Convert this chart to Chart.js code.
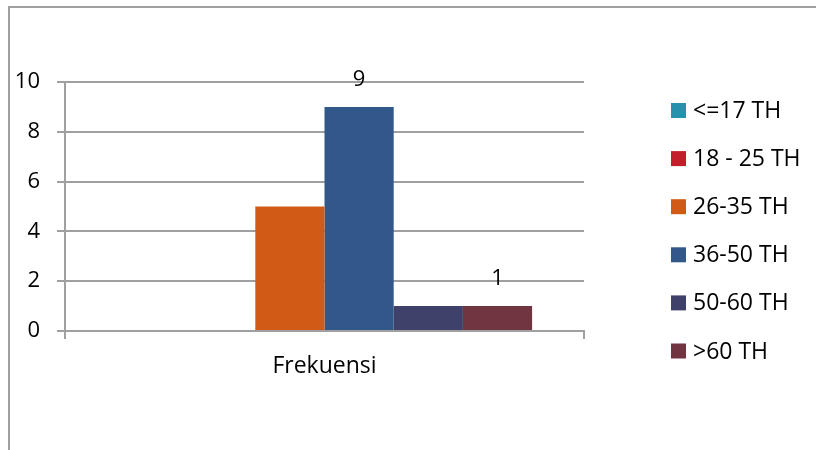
<!DOCTYPE html>
<html>
<head>
<meta charset="utf-8">
<script src="https://cdn.jsdelivr.net/npm/chart.js@4/dist/chart.umd.min.js"></script>
<style>
  html, body { margin: 0; padding: 0; background: #ffffff; }
  #wrap { position: relative; width: 816px; height: 450px; }
</style>
</head>
<body>
<div id="wrap"><canvas id="c" width="816" height="450"></canvas></div>
<script>
const categories = ["Frekuensi"];
const seriesNames = ["<=17 TH", "18 - 25 TH", "26-35 TH", "36-50 TH", "50-60 TH", ">60 TH"];
const seriesValues = [[0], [0], [5], [9], [1], [1]];
const seriesColors = ["#2790ab", "#c41e2a", "#d05a16", "#325889", "#3f416a", "#713441"];
const labelledSeries = [3, 5];
const yTicks = [0, 2, 4, 6, 8, 10];

const FONT = "'Open Sans', 'Noto Sans', sans-serif";
const GRID = "#a0a0a0";

const datasets = seriesNames.map((name, i) => ({
  label: name,
  data: seriesValues[i],
  backgroundColor: seriesColors[i],
  borderWidth: 0,
  categoryPercentage: 0.8,
  barPercentage: 1.0
}));

const frame = {
  id: 'frame',
  beforeDraw(chart) {
    const ctx = chart.ctx;
    ctx.save();
    ctx.fillStyle = '#ffffff';
    ctx.fillRect(0, 0, chart.width, chart.height);
    ctx.strokeStyle = GRID;
    ctx.lineWidth = 2;
    ctx.beginPath();
    ctx.moveTo(9, 450);
    ctx.lineTo(9, 7);
    ctx.lineTo(816, 7);
    ctx.stroke();
    ctx.restore();
  }
};

const valueLabels = {
  id: 'valueLabels',
  afterDatasetsDraw(chart) {
    const ctx = chart.ctx;
    ctx.save();
    ctx.fillStyle = '#000000';
    ctx.font = "22px " + FONT;
    ctx.textAlign = 'center';
    ctx.textBaseline = 'middle';
    labelledSeries.forEach(di => {
      const meta = chart.getDatasetMeta(di);
      meta.data.forEach((bar, j) => {
        ctx.fillText(String(seriesValues[di][j]), bar.x, bar.y - 27);
      });
    });
    ctx.restore();
  }
};

const sideLegend = {
  id: 'sideLegend',
  afterDraw(chart) {
    const ctx = chart.ctx;
    ctx.save();
    ctx.font = "23px " + FONT;
    ctx.textBaseline = 'middle';
    ctx.textAlign = 'left';
    chart.data.datasets.forEach((ds, i) => {
      const cy = 110.5 + i * 48.1;
      ctx.fillStyle = ds.backgroundColor;
      ctx.fillRect(671, cy - 7.5, 15, 15);
      ctx.fillStyle = '#000000';
      ctx.fillText(ds.label, 693, cy + 1);
    });
    ctx.restore();
  }
};

new Chart(document.getElementById('c'), {
  type: 'bar',
  data: { labels: categories, datasets },
  options: {
    responsive: false,
    animation: false,
    devicePixelRatio: 1,
    layout: { padding: { left: 0, right: 232, top: 82, bottom: 0 } },
    plugins: {
      legend: { display: false },
      tooltip: { enabled: false },
      title: { display: false }
    },
    scales: {
      x: {
        offset: true,
        grid: {
          display: true,
          drawOnChartArea: false,
          drawTicks: true,
          tickLength: 8,
          color: GRID,
          lineWidth: 2,
          offset: true
        },
        border: { display: true, color: GRID, width: 2 },
        ticks: {
          color: '#000000',
          font: { family: FONT, size: 23 },
          padding: 14
        },
        afterFit(scale) { scale.height = 119; }
      },
      y: {
        min: 0,
        max: 10,
        afterBuildTicks(scale) { scale.ticks = yTicks.map(v => ({ value: v })); },
        grid: {
          color: GRID,
          lineWidth: 2,
          drawTicks: true,
          tickLength: 8
        },
        border: { display: true, color: GRID, width: 2 },
        ticks: {
          color: '#000000',
          font: { family: FONT, size: 22 },
          padding: 17
        },
        afterFit(scale) { scale.width = 65; }
      }
    }
  },
  plugins: [frame, valueLabels, sideLegend]
});
</script>
</body>
</html>
